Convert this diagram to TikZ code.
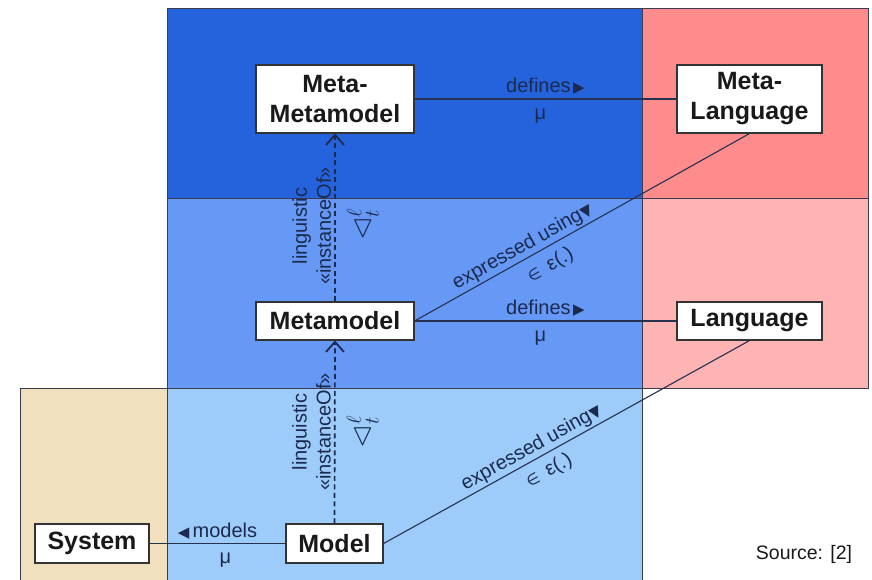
\documentclass[tikz,border=0pt]{standalone}
\usepackage{amssymb}
\usepackage{fontspec}
\setmainfont{Liberation Sans}
\newfontfamily\symf{DejaVu Sans}
\usetikzlibrary{arrows.meta}
\definecolor{dkblue}{HTML}{2563DC}
\definecolor{mdblue}{HTML}{6699F5}
\definecolor{ltblue}{HTML}{9DCBFA}
\definecolor{pinkA}{HTML}{FF8C8C}
\definecolor{pinkB}{HTML}{FFB4B4}
\definecolor{tanc}{HTML}{F0E0BD}
\definecolor{navy}{HTML}{1B2A4E}
\definecolor{edgec}{HTML}{26304F}
\definecolor{regline}{HTML}{3C3C50}
\tikzset{
  region/.style={draw=regline, line width=0.8pt},
  box/.style={draw=black!80, line width=1.1pt, fill=white, inner sep=0pt, align=center,
    font=\fontsize{25}{30}\selectfont\bfseries, text=black!90},
  conn/.style={draw=edgec, line width=1.1pt},
  inst/.style={draw=navy, line width=1.7pt, dash pattern=on 5pt off 3.5pt,
    -{Straight Barb[length=10pt,width=18pt,line width=1.8pt]}},
  lbl/.style={text=navy, font=\fontsize{20}{24}\selectfont, inner sep=2pt},
  symlbl/.style={text=navy, font=\fontsize{30}{32}\selectfont},
}
\newcommand{\trisym}[1]{{\symf\fontsize{15}{15}\selectfont #1}}
\begin{document}
\begin{tikzpicture}[x=1pt,y=-1pt]
\useasboundingbox (0,0) rectangle (872,579);
% regions
\draw[region, fill=dkblue] (167,8) rectangle (642,198);
\draw[region, fill=pinkA] (642,8) rectangle (868,198);
\draw[region, fill=mdblue] (167,198) rectangle (642,388);
\draw[region, fill=pinkB] (642,198) rectangle (868,388);
\draw[region, fill=tanc] (20,388) rectangle (167,582);
\draw[region, fill=ltblue] (167,388) rectangle (642,582);
% nodes
\node[box, minimum width=158, minimum height=68] (mmm) at (335,99) {Meta-\\Metamodel};
\node[box, minimum width=145, minimum height=68] (ml) at (749.5,99) {Meta-\\Language};
\node[box, minimum width=158, minimum height=38] (mm) at (335,321) {Metamodel};
\node[box, minimum width=145, minimum height=38] (lang) at (749.5,321) {Language};
\node[box, minimum width=114, minimum height=39] (sys) at (92,543.5) {System};
\node[box, minimum width=97, minimum height=39] (model) at (334.5,543.5) {Model};
% horizontal connectors
\draw[conn] (mmm) -- node[lbl, above=2pt] {defines\trisym{\,▶}} node[lbl, below=7pt, xshift=-5pt] {μ} (ml);
\draw[conn] (mm) -- node[lbl, above=2pt] {defines\trisym{\,▶}} node[lbl, below=7pt, xshift=-5pt] {μ} (lang);
\draw[conn] (model) -- node[lbl, above=2pt] {\trisym{◀}\,models} node[lbl, below=7pt, xshift=8pt] {μ} (sys);
% expressed using
\draw[conn] (mm.east) -- node[lbl, sloped, above, pos=0.34] {expressed using\trisym{▼}}
  node[lbl, sloped, below, pos=0.38, inner sep=8pt] {{\symf\fontsize{15}{15}\selectfont∈}\, ε(.)} (ml.south);
\draw[conn] (model.east) -- node[lbl, sloped, above, pos=0.42] {expressed using\trisym{▼}}
  node[lbl, sloped, below, pos=0.43, inner sep=7pt] {{\symf\fontsize{15}{15}\selectfont∈}\, ε(.)} (lang.south);
% instanceOf
\draw[inst] (mm.north) -- node[lbl, pos=0.45, rotate=90, anchor=south, align=center, inner sep=3pt] {linguistic\\«instanceOf»}
  node[symlbl, pos=0.46, rotate=90, anchor=north, inner sep=11pt] {$\lhd^{\ell}_{t}$} (mmm.south);
\draw[inst] (model.north) -- node[lbl, pos=0.5, rotate=90, anchor=south, align=center, inner sep=3pt] {linguistic\\«instanceOf»}
  node[symlbl, pos=0.5, rotate=90, anchor=north, inner sep=11pt] {$\lhd^{\ell}_{t}$} (mm.south);
% source
\node[font=\fontsize{19.5}{22}\selectfont, text=black!90] (src) at (804,554) {Source: [2]};
\end{tikzpicture}
\end{document}
